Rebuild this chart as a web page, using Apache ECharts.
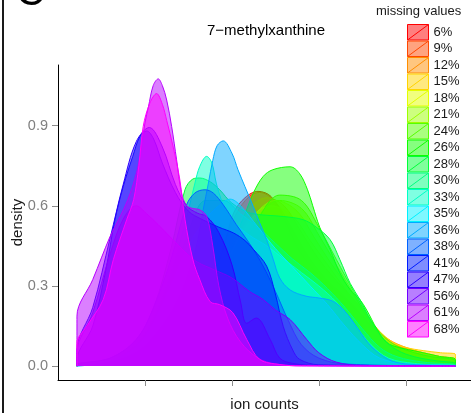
<!DOCTYPE html>
<html>
<head>
<meta charset="utf-8">
<script src="https://cdn.jsdelivr.net/npm/echarts@6/dist/echarts.min.js"></script>
<style>
  html, body { margin: 0; padding: 0; background: #ffffff; }
  #chart { width: 471px; height: 413px; }
</style>
</head>
<body>
<div id="chart"></div>
<script>
// Missing-value levels, one density curve per level
const levels = ['6%', '9%', '12%', '15%', '18%', '21%', '24%', '26%', '28%', '30%',
                '33%', '35%', '36%', '38%', '41%', '47%', '56%', '61%', '68%'];

// Rainbow palette, red through magenta
const colors = ['#FF0000', '#FF4700', '#FF8E00', '#FFD400', '#E3FF00', '#9CFF00', '#55FF00',
                '#0EFF00', '#00FF39', '#00FF80', '#00FFC6', '#00F1FF', '#00AAFF', '#0063FF',
                '#001CFF', '#2B00FF', '#7100FF', '#B800FF', '#FF00FF'];

// Density estimates: [ion counts, density]
const dens6 = [[0.218,0.004],[0.8,0.02],[1.2,0.06],[1.5,0.14],[1.75,0.30],[1.9,0.44],[2.02,0.573],[2.15,0.63],[2.3,0.654],[2.45,0.635],[2.59,0.56],[2.78,0.43],[3.0,0.34],[3.2,0.28],[3.4,0.22],[3.6,0.15],[3.75,0.10],[3.9,0.075],[4.1,0.055],[4.3,0.04],[4.571,0.022]];
const dens9 = [[0.218,0.004],[0.8,0.02],[1.2,0.06],[1.5,0.15],[1.75,0.31],[1.9,0.45],[2.05,0.57],[2.2,0.635],[2.32,0.65],[2.5,0.615],[2.7,0.51],[2.9,0.40],[3.1,0.32],[3.3,0.26],[3.5,0.19],[3.67,0.13],[3.85,0.085],[4.0,0.065],[4.2,0.05],[4.4,0.035],[4.571,0.02]];
const dens12 = [[0.218,0.004],[0.8,0.02],[1.2,0.055],[1.5,0.13],[1.75,0.28],[1.95,0.44],[2.15,0.57],[2.4,0.63],[2.6,0.6],[2.8,0.5],[3.0,0.4],[3.2,0.32],[3.4,0.25],[3.55,0.19],[3.67,0.137],[3.8,0.1],[4.0,0.07],[4.2,0.05],[4.4,0.035],[4.571,0.025]];
const dens15 = [[0.218,0.004],[0.8,0.02],[1.2,0.05],[1.5,0.12],[1.75,0.26],[2.0,0.43],[2.2,0.55],[2.45,0.60],[2.7,0.56],[2.9,0.47],[3.1,0.38],[3.3,0.29],[3.5,0.21],[3.7,0.13],[3.85,0.09],[4.0,0.07],[4.2,0.058],[4.4,0.05],[4.571,0.044]];
const dens18 = [[0.218,0.003],[0.8,0.015],[1.2,0.045],[1.5,0.11],[1.75,0.25],[2.0,0.42],[2.25,0.56],[2.5,0.62],[2.75,0.58],[2.95,0.48],[3.15,0.38],[3.35,0.29],[3.55,0.19],[3.7,0.12],[3.85,0.08],[4.0,0.062],[4.2,0.05],[4.4,0.035],[4.571,0.025]];
const dens21 = [[0.218,0.003],[0.8,0.015],[1.2,0.04],[1.5,0.10],[1.8,0.24],[2.05,0.41],[2.3,0.56],[2.55,0.62],[2.8,0.59],[3.0,0.49],[3.2,0.38],[3.4,0.27],[3.6,0.16],[3.75,0.10],[3.9,0.07],[4.1,0.05],[4.3,0.035],[4.571,0.02]];
const dens24 = [[0.218,0.003],[0.8,0.015],[1.2,0.04],[1.5,0.10],[1.8,0.23],[2.05,0.39],[2.3,0.55],[2.55,0.64],[2.8,0.62],[3.0,0.52],[3.2,0.40],[3.4,0.28],[3.6,0.17],[3.75,0.11],[3.9,0.075],[4.1,0.05],[4.3,0.035],[4.571,0.02]];
const dens26 = [[0.218,0.003],[0.8,0.02],[1.2,0.06],[1.5,0.15],[1.8,0.30],[2.0,0.45],[2.15,0.57],[2.25,0.65],[2.36,0.71],[2.47,0.735],[2.67,0.746],[2.78,0.72],[2.87,0.66],[2.93,0.60],[3.01,0.52],[3.13,0.436],[3.24,0.35],[3.36,0.286],[3.47,0.25],[3.55,0.21],[3.67,0.137],[3.78,0.088],[3.93,0.069],[4.13,0.055],[4.39,0.036],[4.571,0.025]];
const dens28 = [[0.218,0.006],[0.6,0.03],[0.9,0.10],[1.1,0.22],[1.3,0.44],[1.46,0.66],[1.55,0.70],[1.63,0.704],[1.75,0.69],[1.86,0.66],[2.0,0.61],[2.21,0.573],[2.59,0.56],[2.82,0.548],[2.97,0.52],[3.13,0.473],[3.24,0.40],[3.36,0.31],[3.47,0.25],[3.6,0.17],[3.75,0.10],[3.9,0.06],[4.1,0.035],[4.35,0.02],[4.571,0.01]];
const dens30 = [[0.218,0.004],[0.6,0.02],[1.0,0.10],[1.3,0.30],[1.5,0.50],[1.7,0.62],[1.9,0.62],[2.1,0.57],[2.3,0.52],[2.5,0.46],[2.7,0.40],[2.9,0.35],[3.1,0.29],[3.3,0.22],[3.5,0.14],[3.7,0.07],[3.9,0.035],[4.2,0.015],[4.571,0.005]];
const dens33 = [[0.218,0.003],[0.6,0.02],[0.9,0.08],[1.1,0.18],[1.3,0.35],[1.45,0.52],[1.52,0.61],[1.575,0.685],[1.63,0.747],[1.71,0.785],[1.77,0.76],[1.82,0.685],[1.88,0.62],[1.94,0.573],[2.05,0.53],[2.2,0.49],[2.4,0.45],[2.6,0.40],[2.8,0.35],[3.0,0.30],[3.2,0.24],[3.4,0.16],[3.6,0.08],[3.8,0.03],[4.1,0.01],[4.571,0.002]];
const dens35 = [[0.218,0.003],[0.6,0.02],[0.9,0.07],[1.1,0.16],[1.3,0.30],[1.5,0.45],[1.7,0.55],[1.85,0.60],[1.98,0.625],[2.1,0.60],[2.3,0.52],[2.5,0.44],[2.7,0.37],[2.9,0.30],[3.1,0.23],[3.3,0.15],[3.5,0.08],[3.7,0.03],[4.0,0.008],[4.571,0.002]];
const dens36 = [[0.218,0.002],[0.6,0.015],[0.9,0.05],[1.1,0.11],[1.3,0.2],[1.45,0.3],[1.55,0.40],[1.61,0.473],[1.67,0.585],[1.73,0.685],[1.78,0.77],[1.83,0.825],[1.9,0.843],[2.0,0.797],[2.07,0.735],[2.15,0.672],[2.245,0.598],[2.32,0.536],[2.4,0.473],[2.475,0.40],[2.55,0.33],[2.67,0.285],[2.85,0.262],[3.0,0.255],[3.16,0.243],[3.3,0.205],[3.45,0.14],[3.6,0.075],[3.8,0.025],[4.0,0.008],[4.571,0.001]];
const dens38 = [[0.218,0.005],[0.6,0.03],[0.9,0.10],[1.1,0.22],[1.3,0.40],[1.48,0.604],[1.575,0.648],[1.69,0.66],[1.785,0.648],[1.9,0.604],[2.05,0.53],[2.2,0.46],[2.35,0.38],[2.5,0.28],[2.65,0.17],[2.8,0.08],[3.0,0.03],[3.3,0.008],[4.571,0]];
const dens41 = [[0.218,0.02],[0.4,0.15],[0.55,0.36],[0.655,0.548],[0.75,0.672],[0.86,0.785],[0.943,0.86],[1.02,0.88],[1.1,0.85],[1.2,0.76],[1.35,0.65],[1.5,0.58],[1.65,0.55],[1.85,0.52],[2.02,0.498],[2.15,0.47],[2.25,0.436],[2.4,0.374],[2.5,0.27],[2.59,0.149],[2.7,0.06],[2.78,0.025],[3.0,0.005],[4.571,0]];
const dens47 = [[0.218,0.06],[0.4,0.22],[0.6,0.48],[0.75,0.68],[0.9,0.84],[1.05,0.893],[1.2,0.82],[1.35,0.68],[1.48,0.60],[1.6,0.573],[1.71,0.56],[1.85,0.50],[2.0,0.38],[2.1,0.24],[2.17,0.16],[2.28,0.18],[2.44,0.10],[2.55,0.03],[2.7,0.01],[3.0,0.002],[4.571,0]];
const dens56 = [[0.218,0.05],[0.4,0.20],[0.6,0.42],[0.75,0.55],[0.9,0.60],[1.02,0.57],[1.15,0.53],[1.3,0.48],[1.45,0.43],[1.6,0.39],[1.8,0.36],[2.0,0.33],[2.2,0.28],[2.36,0.249],[2.5,0.21],[2.67,0.174],[2.86,0.10],[3.0,0.05],[3.2,0.015],[3.5,0.003],[4.571,0]];
const dens61 = [[0.218,0.187],[0.4,0.324],[0.6,0.486],[0.7,0.55],[0.8,0.62],[0.9,0.72],[0.95,0.80],[1.0,0.91],[1.04,0.97],[1.095,1.05],[1.153,1.075],[1.2,1.05],[1.25,0.996],[1.307,0.897],[1.364,0.772],[1.42,0.648],[1.48,0.60],[1.55,0.59],[1.63,0.585],[1.71,0.56],[1.78,0.45],[1.85,0.30],[1.95,0.18],[2.1,0.09],[2.3,0.03],[2.5,0.008],[2.8,0.001],[4.571,0]];
const dens68 = [[0.218,0.087],[0.33,0.149],[0.52,0.249],[0.636,0.398],[0.79,0.548],[0.87,0.623],[0.93,0.75],[0.98,0.897],[1.057,0.985],[1.134,1.02],[1.2,0.98],[1.25,0.92],[1.325,0.82],[1.40,0.70],[1.46,0.55],[1.55,0.40],[1.63,0.324],[1.75,0.241],[1.86,0.23],[2.01,0.20],[2.17,0.10],[2.32,0.025],[2.55,0.006],[2.8,0.001],[4.571,0]];

const densities = [dens6, dens9, dens12, dens15, dens18, dens21, dens24, dens26, dens28, dens30,
                   dens33, dens35, dens36, dens38, dens41, dens47, dens56, dens61, dens68];

// Axis ticks
const yTicks = [0, 0.3, 0.6, 0.9];
const xTicks = [1, 2, 3, 4];

const FONT = '"Liberation Sans", Arial, Helvetica, sans-serif';
const FILL_ALPHA = 0.5;

function withAlpha(hex, a) {
  const n = parseInt(hex.slice(1), 16);
  return 'rgba(' + ((n >> 16) & 255) + ',' + ((n >> 8) & 255) + ',' + (n & 255) + ',' + a + ')';
}

// Drop each curve to zero at both ends of its range so the outline closes
function closed(pts) {
  return [[pts[0][0], 0]].concat(pts, [[pts[pts.length - 1][0], 0]]);
}

// Legend key: filled box with a rising diagonal
const keyIcon = 'path://M0,0 L21,0 L21,15.5 L0,15.5 Z M0,15.5 L21,0';

const chart = echarts.init(document.getElementById('chart'), null, { renderer: 'canvas' });

chart.setOption({
  animation: false,
  backgroundColor: '#ffffff',
  textStyle: { fontFamily: FONT },
  grid: { left: 58, right: 0, top: 65, bottom: 33, containLabel: false, outerBoundsMode: 'none' },
  xAxis: {
    type: 'value', min: 0, max: 4.75,
    name: 'ion counts', nameLocation: 'middle', nameGap: 17, nameMoveOverlap: false,
    nameTextStyle: { fontSize: 15, color: '#1a1a1a', fontFamily: FONT },
    axisLine: { show: true, onZero: false, lineStyle: { color: '#000000', width: 1 } },
    axisTick: { show: true, length: 6, customValues: xTicks, lineStyle: { color: '#8c8c8c', width: 1 } },
    axisLabel: { show: false },
    splitLine: { show: false }
  },
  yAxis: {
    type: 'value', min: -0.052, max: 1.127,
    name: 'density', nameLocation: 'middle', nameGap: 33, nameRotate: 90, nameMoveOverlap: false,
    nameTextStyle: { fontSize: 15, color: '#1a1a1a', fontFamily: FONT },
    axisLine: { show: true, onZero: false, lineStyle: { color: '#000000', width: 1 } },
    axisTick: { show: true, length: 6, customValues: yTicks, lineStyle: { color: '#8c8c8c', width: 1 } },
    axisLabel: { customValues: yTicks, formatter: v => v.toFixed(1), fontSize: 14.5, color: '#808080', margin: 10, fontFamily: FONT },
    splitLine: { show: false }
  },
  legend: {
    orient: 'vertical', left: 407, top: 24, padding: 0, z: 100,
    itemWidth: 21, itemHeight: 15.5, itemGap: 0,
    symbolKeepAspect: false, selectedMode: false,
    textStyle: { fontSize: 13, color: '#1a1a1a', fontFamily: FONT },
    data: levels.map((lv, i) => ({
      name: lv, icon: keyIcon,
      itemStyle: { color: withAlpha(colors[i], FILL_ALPHA), borderColor: colors[i], borderWidth: 1 }
    }))
  },
  graphic: [
    { type: 'rect', left: 2, top: 0, shape: { width: 2, height: 413 }, style: { fill: '#1a1a1a' }, silent: true },
    { type: 'text', x: 16, y: -6, style: { text: 'C', font: '40px ' + FONT, fill: '#000000', verticalAlign: 'middle' }, silent: true },
    { type: 'text', x: 266, y: 31, style: { text: '7\u2212methylxanthine', font: '15px ' + FONT, fill: '#000000', align: 'center', verticalAlign: 'middle' }, silent: true },
    { type: 'text', x: 376, y: 11, style: { text: 'missing values', font: '13px ' + FONT, fill: '#1a1a1a', align: 'left', verticalAlign: 'middle' }, silent: true }
  ],
  // Later levels are stacked visually above earlier ones (outline and fill together)
  series: levels.map((lv, i) => ({
    name: lv,
    type: 'line',
    z: 2 + i,
    data: closed(densities[i]),
    smooth: 0.35,
    symbol: 'none',
    showSymbol: false,
    silent: true,
    lineStyle: { color: colors[i], width: 1 },
    itemStyle: { color: colors[i] },
    areaStyle: { color: colors[i], opacity: FILL_ALPHA },
    emphasis: { disabled: true }
  }))
});
</script>
</body>
</html>
